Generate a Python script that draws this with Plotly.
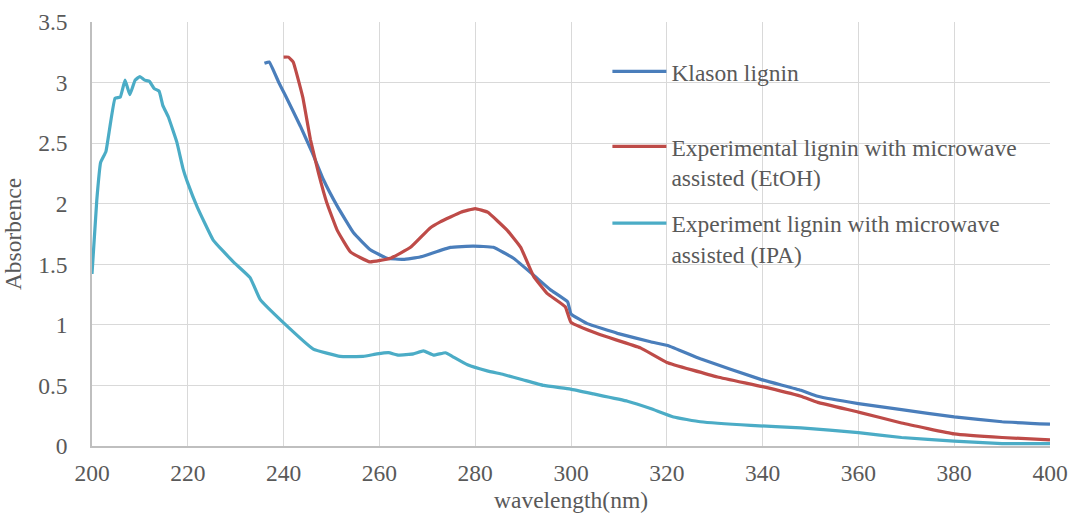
import plotly.graph_objects as go

# Klason lignin
klason_x = [236, 237, 239, 240.3, 243.5, 246, 248.3, 251.2, 254.6, 258.1, 261.6, 265, 268.5, 274.8, 279.6,
            283.8, 288, 292.2, 295.7, 299.3, 300, 303.4, 309.7, 316.6, 320.2, 327, 339.6, 348, 351.5, 360,
            369, 380, 390, 400]
klason_y = [3.16, 3.17, 3.0, 2.90, 2.64, 2.42, 2.20, 1.98, 1.76, 1.62, 1.55, 1.54, 1.56, 1.64, 1.65,
            1.64, 1.55, 1.41, 1.29, 1.19, 1.09, 1.01, 0.93, 0.86, 0.83, 0.72, 0.55, 0.46, 0.41, 0.35,
            0.30, 0.24, 0.20, 0.18]

# Experimental lignin (EtOH)
etoh_x = [240, 241, 242, 244, 245.6, 247.3, 249, 251.2, 254, 258, 262.3, 266.5, 270.6, 272.7, 277, 280,
          282.6, 286.7, 289.5, 292.2, 295, 298.8, 300, 306, 314.5, 320, 330.6, 340, 348, 351.5, 360, 369,
          380, 390, 400]
etoh_y = [3.21, 3.21, 3.17, 2.88, 2.53, 2.25, 2.01, 1.78, 1.60, 1.52, 1.55, 1.64, 1.80, 1.85, 1.93, 1.96,
          1.93, 1.78, 1.64, 1.40, 1.26, 1.15, 1.02, 0.92, 0.81, 0.69, 0.57, 0.49, 0.41, 0.36, 0.28, 0.19,
          0.10, 0.07, 0.05]

# Experiment lignin (IPA)
ipa_x = [200, 201, 201.8, 202.9, 204.8, 205.9, 206.9, 207.9, 209, 210, 211, 212, 213, 214, 214.8, 215.9,
         217.7, 219, 220, 222, 225.3, 229.5, 233, 235.1, 239.9, 246.2, 251.8, 256.6, 259.5, 261.9, 264,
         267.1, 269.2, 271.3, 273.8, 275.2, 278.4, 282.5, 285.9, 290.1, 294.3, 299.9, 304.7, 311.8, 316.6,
         321.4, 327, 337.5, 348, 360, 369, 380, 390, 400]
ipa_y = [1.42, 2.03, 2.34, 2.43, 2.87, 2.88, 3.02, 2.90, 3.02, 3.05, 3.02, 3.01, 2.95, 2.93, 2.81, 2.72,
         2.51, 2.29, 2.17, 1.97, 1.70, 1.52, 1.39, 1.21, 1.02, 0.80, 0.74, 0.74, 0.76, 0.77, 0.75,
         0.76, 0.785, 0.75, 0.77, 0.74, 0.67, 0.62, 0.59, 0.545, 0.50, 0.47, 0.43, 0.37, 0.31,
         0.24, 0.20, 0.17, 0.15, 0.11, 0.07, 0.04, 0.02, 0.02]

names = ["Klason lignin",
         "Experimental lignin with microwave<br>assisted (EtOH)",
         "Experiment lignin with microwave<br>assisted (IPA)"]
colors = ["#4a7ebb", "#be4b48", "#4bacc6"]

FONT = "Liberation Serif"
GRAY = "#595959"

fig = go.Figure()
series = [(klason_x, klason_y), (etoh_x, etoh_y), (ipa_x, ipa_y)]
legends = ["legend", "legend2", "legend3"]
for (xs, ys), nm, c, lg in zip(series, names, colors, legends):
    fig.add_trace(go.Scatter(x=xs, y=ys, mode="lines", name=nm, legend=lg, showlegend=True,
                             line=dict(color=c, width=3.2, shape="spline", smoothing=0.3)))

leg_common = dict(font=dict(family=FONT, size=23.5, color=GRAY), bgcolor="rgba(0,0,0,0)",
                  valign="top", xanchor="left", yanchor="top", itemwidth=54)

fig.update_layout(
    width=1072, height=513,
    showlegend=True,
    margin=dict(l=92, r=22, t=22, b=67),
    paper_bgcolor="white", plot_bgcolor="white",
    font=dict(family=FONT, size=23.5, color=GRAY),
    legend=dict(x=0.538, y=0.935, **leg_common),
    legend2=dict(x=0.538, y=0.758, **leg_common),
    legend3=dict(x=0.538, y=0.577, **leg_common),
    xaxis=dict(range=[200, 400], dtick=20, showgrid=True, gridcolor="#d9d9d9", gridwidth=1.3,
               showline=True, linecolor="#bfbfbf", linewidth=1.5, zeroline=False, automargin=False,
               tickfont=dict(family=FONT, size=23.5, color=GRAY), ticks="", ticklabelstandoff=5,
               title=dict(text="wavelength(nm)", font=dict(family=FONT, size=23.5, color=GRAY), standoff=14)),
    yaxis=dict(range=[0, 3.5], dtick=0.5, showgrid=True, gridcolor="#d9d9d9", gridwidth=1.3,
               showline=True, linecolor="#bfbfbf", linewidth=1.5, zeroline=False, automargin=False,
               tickfont=dict(family=FONT, size=23.5, color=GRAY), ticks="", ticklabelstandoff=18,
               tickformat="~g",
               title=dict(text="Absorbence", font=dict(family=FONT, size=23.5, color=GRAY), standoff=10)),
)

fig.write_html("out.html")
